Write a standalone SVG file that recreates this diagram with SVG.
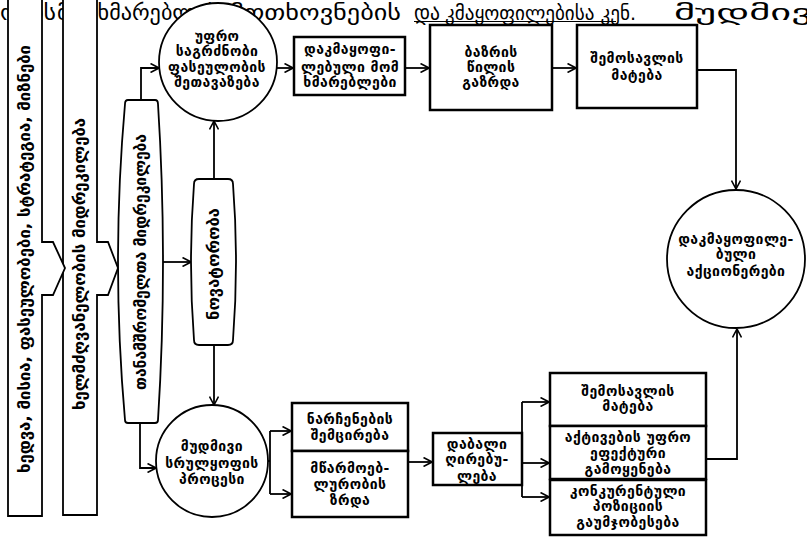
<svg xmlns="http://www.w3.org/2000/svg" width="807" height="537" viewBox="0 0 807 537">
<style>
.bg{font-family:"DejaVu Sans","Noto Sans",sans-serif;font-size:21px;fill:#000}
.t{font-family:"DejaVu Sans","Noto Sans",sans-serif;font-weight:bold;font-size:14px;letter-spacing:0.4px;text-anchor:middle;fill:#000}
.r{font-size:16px;letter-spacing:0}
.box{fill:#fff;stroke:#000;stroke-width:2.5}
.shape{fill:#fff;stroke:#000;stroke-width:1.8}
.c{fill:none;stroke:#000;stroke-width:1.8}
</style>
<defs>
<marker id="ah" markerWidth="10" markerHeight="10" refX="9.5" refY="5" orient="auto" markerUnits="userSpaceOnUse">
<path d="M1,0.5 L9.5,5 L1,9.5" fill="none" stroke="#000" stroke-width="1.6"/>
</marker>
</defs>
<rect width="807" height="537" fill="#fff"/>
<g id="background-text">
<text class="bg" x="0" y="20" textLength="56" lengthAdjust="spacingAndGlyphs">ობის</text>
<text class="bg" x="57" y="20" textLength="162" lengthAdjust="spacingAndGlyphs">მომხმარებლის</text>
<text class="bg" x="230" y="20" textLength="171" lengthAdjust="spacingAndGlyphs">მოთხოვნების</text>
<text class="bg" x="414" y="20" textLength="26" lengthAdjust="spacingAndGlyphs">და</text>
<text class="bg" x="445" y="20" textLength="191" lengthAdjust="spacingAndGlyphs" style="font-size:20px">კმაყოფილებისა კენ.</text>
<text class="bg" x="674" y="20" textLength="138" lengthAdjust="spacingAndGlyphs">მუდმივ</text>
<line x1="414" y1="21.5" x2="616" y2="21.5" stroke="#000" stroke-width="1.2"/>
</g>
<g id="connectors">
<path class="c" d="M141,100 L141,68 L159,68" marker-end="url(#ah)"/>
<path class="c" d="M163,262 L191,262" marker-end="url(#ah)"/>
<path class="c" d="M214,179 L214,121" marker-end="url(#ah)"/>
<path class="c" d="M214,345 L214,405" marker-end="url(#ah)"/>
<path class="c" d="M140,423 L140,468 L156,468" marker-end="url(#ah)"/>
<path class="c" d="M277,68 L293,68" marker-end="url(#ah)"/>
<path class="c" d="M405,68 L429,68" marker-end="url(#ah)"/>
<path class="c" d="M552,68 L576,68" marker-end="url(#ah)"/>
<path class="c" d="M697,70 L736,70 L736,189" marker-end="url(#ah)"/>
<path class="c" d="M268,461 L270,461 M270,431 L270,494"/>
<path class="c" d="M270,431 L291,431" marker-end="url(#ah)"/>
<path class="c" d="M270,494 L291,494" marker-end="url(#ah)"/>
<path class="c" d="M408,462 L432,462" marker-end="url(#ah)"/>
<path class="c" d="M522,402 L522,497"/>
<path class="c" d="M522,402 L549,402" marker-end="url(#ah)"/>
<path class="c" d="M522,463 L549,463" marker-end="url(#ah)"/>
<path class="c" d="M522,497 L549,497" marker-end="url(#ah)"/>
<path class="c" d="M707,459 L737,459 L737,329" marker-end="url(#ah)"/>
</g>
<g id="n-leadership">
<path class="shape" d="M63,-2 L97,-2 L97,242 L108,242 L118,268 L108,295 L97,295 L97,515 L63,515 Z"/>
<text class="t r" transform="translate(80,264) rotate(-90)" y="5" textLength="292" lengthAdjust="spacingAndGlyphs">ხელმძღვანელობის მიდრეკილება</text>
</g>
<g id="n-vision">
<path class="shape" d="M8,-2 L42,-2 L42,242 L53,242 L65,268 L53,295 L42,295 L42,516 L8,516 Z"/>
<text class="t r" transform="translate(25,259) rotate(-90)" y="5" textLength="428" lengthAdjust="spacingAndGlyphs">ხედვა,  მისია,  ფასეულობები,  სტრატეგია,  მიზნები</text>
</g>
<g id="n-employees">
<path class="shape" d="M128,100 L155,100 Q158,100 158,104 Q168,262 158,420 Q158,423 155,423 L128,423 Q125,423 125,420 Q111,262 125,104 Q125,100 128,100 Z"/>
<text class="t r" transform="translate(141,262) rotate(-90)" y="5" textLength="256" lengthAdjust="spacingAndGlyphs">თანამშრომელთა მიდრეკილება</text>
</g>
<g id="n-innovation">
<path class="shape" d="M199,179 L228,179 Q233,179 233,184 Q239,262 233,340 Q233,345 228,345 L199,345 Q194,345 194,340 Q188,262 194,184 Q194,179 199,179 Z"/>
<text class="t r" transform="translate(214,264) rotate(-90)" y="5" textLength="112" lengthAdjust="spacingAndGlyphs">ნოვატორობა</text>
</g>
<g id="n-value">
<circle class="shape" cx="218" cy="62" r="59"/>
<text class="t" x="217" y="41">უფრო</text>
<text class="t" x="217" y="56">საგრძნობი</text>
<text class="t" x="217" y="72">ფასეულობის</text>
<text class="t" x="217" y="87">შეთავაზება</text>
</g>
<g id="n-satisfied-customers">
<rect class="box" x="294" y="37" width="111" height="58"/>
<text class="t" x="350" y="54">დაკმაყოფი-</text>
<text class="t" x="350" y="72">ლებული მომ</text>
<text class="t" x="350" y="87">ხმარებლები</text>
</g>
<g id="n-market-share">
<rect class="box" x="430" y="25" width="122" height="85"/>
<text class="t" x="491" y="57">ბაზრის</text>
<text class="t" x="491" y="72">წილის</text>
<text class="t" x="491" y="87">გაზრდა</text>
</g>
<g id="n-revenue-top">
<rect class="box" x="577" y="25" width="120" height="83"/>
<text class="t" x="637" y="63">შემოსავლის</text>
<text class="t" x="637" y="80">მატება</text>
</g>
<g id="n-shareholders">
<circle class="shape" cx="736" cy="259" r="69"/>
<text class="t" x="736" y="244">დაკმაყოფილე-</text>
<text class="t" x="736" y="259">ბული</text>
<text class="t" x="736" y="276">აქციონერები</text>
</g>
<g id="n-improvement">
<circle class="shape" cx="212" cy="461" r="56"/>
<text class="t" x="212" y="451">მუდმივი</text>
<text class="t" x="212" y="468">სრულყოფის</text>
<text class="t" x="212" y="484">პროცესი</text>
</g>
<g id="n-waste">
<rect class="box" x="292" y="403" width="116" height="48"/>
<text class="t" x="350" y="424">ნარჩენების</text>
<text class="t" x="350" y="440">შემცირება</text>
</g>
<g id="n-productivity">
<rect class="box" x="292" y="451" width="116" height="66"/>
<text class="t" x="350" y="473">მწარმოებ-</text>
<text class="t" x="350" y="489">ლურობის</text>
<text class="t" x="350" y="505">ზრდა</text>
</g>
<g id="n-low-cost">
<rect class="box" x="433" y="433" width="89" height="52"/>
<text class="t" x="477" y="449">დაბალი</text>
<text class="t" x="477" y="464">ღირებუ-</text>
<text class="t" x="477" y="481">ლება</text>
</g>
<g id="n-revenue-bottom">
<rect class="box" x="550" y="373" width="156" height="53"/>
<text class="t" x="628" y="396">შემოსავლის</text>
<text class="t" x="628" y="411">მატება</text>
</g>
<g id="n-assets">
<rect class="box" x="550" y="426" width="156" height="53"/>
<text class="t" x="628" y="442">აქტივების უფრო</text>
<text class="t" x="628" y="458">ეფექტური</text>
<text class="t" x="628" y="474">გამოყენება</text>
</g>
<g id="n-competitive">
<rect class="box" x="550" y="480" width="156" height="55"/>
<text class="t" x="628" y="496">კონკურენტული</text>
<text class="t" x="628" y="511">პოზიციის</text>
<text class="t" x="628" y="527">გაუმჯობესება</text>
</g>
</svg>
